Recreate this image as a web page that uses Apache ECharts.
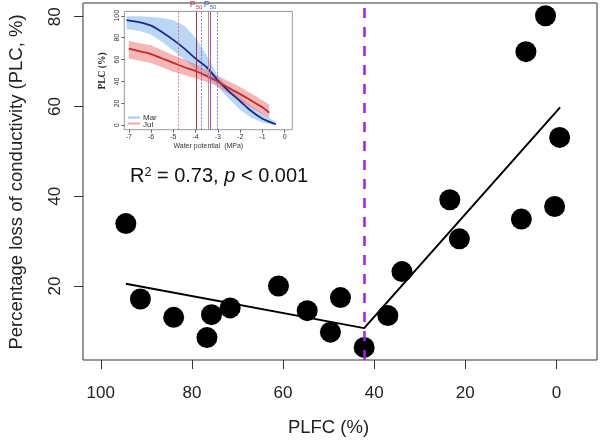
<!DOCTYPE html>
<html>
<head>
<meta charset="utf-8">
<script src="https://cdn.jsdelivr.net/npm/echarts@6/dist/echarts.min.js"></script>
<style>
  html, body { margin: 0; padding: 0; background: #fff; }
  #main { width: 606px; height: 446px; }
</style>
</head>
<body>
<div id="main"></div>
<script>
// main panel: PLFC vs PLC
var plfc = [94.5, 91.3, 84.0, 75.7, 76.7, 71.6, 61.0, 54.7, 47.4, 49.6, 42.2, 37.0, 33.9, 23.4, 21.3, 7.7, 0.4, -0.7, 6.7, 2.4];
var plc  = [33.9, 17.1, 13.0, 13.6, 8.5, 15.1, 20.0, 14.5, 17.4, 9.7, 6.3, 13.4, 23.2, 39.2, 30.5, 34.9, 37.7, 53.1, 72.2, 80.2];
// piecewise fit, break point
var fitX = [94.5, 42.2, -0.8];
var fitY = [20.5, 10.6, 59.8];
var breakX = 42.2;
var xTicks = [100, 80, 60, 40, 20, 0];
var yTicks = [20, 40, 60, 80];

// inset: vulnerability curves
var marX  = [-7.1, -6.5, -6, -5.5, -5, -4.5, -4, -3.5, -3, -2.5, -2, -1.5, -1, -0.4];
var marY  = [96, 94, 91, 85, 78, 70, 61, 53, 41, 31, 22, 13, 6, 1];
var marHi = [99.5, 99.5, 99, 98, 96, 91, 80, 64, 45, 34, 26, 18, 11, 3];
var marLo = [88, 86, 83, 76, 68, 60, 51, 44, 35, 24, 14, 7, 2.5, 0];
var julX  = [-7, -6.5, -6, -5.5, -5, -4.5, -4, -3.5, -3, -2.5, -2, -1.5, -1, -0.7];
var julY  = [70, 67.5, 65, 61, 57, 53, 49.6, 45, 40, 34, 28.5, 22.5, 16.5, 11.5];
var julHi = [77, 75, 73, 68.5, 64, 60, 56, 50.5, 45, 40, 35, 29, 23, 19];
var julLo = [61, 59, 57, 53, 49, 46, 43, 39.5, 35.5, 28.5, 22, 16, 10, 7];
var marP50 = -3.35, marCI = [-3.76, -3.03];
var julP50 = -3.98, julCI = [-4.78, -3.43];
var inXTicks = [-7, -6, -5, -4, -3, -2, -1, 0];
var inYTicks = [0, 20, 40, 60, 80, 100];

var FONT = 'Liberation Sans, Arial, sans-serif';

var myChart = echarts.init(document.getElementById('main'));

function pairs(xs, ys) {
  return xs.map(function (x, i) { return [x, ys[i]]; });
}

// band polygon drawn once, through the inset axes
function band(xs, lo, hi, fill) {
  return function (params, api) {
    if (params.dataIndex !== 0) return null;
    var pts = [];
    for (var i = 0; i < xs.length; i++) pts.push(api.coord([xs[i], hi[i]]));
    for (var j = xs.length - 1; j >= 0; j--) pts.push(api.coord([xs[j], lo[j]]));
    return { type: 'polygon', shape: { points: pts }, style: { fill: fill } };
  };
}

function p50Label(color) {
  return {
    show: true, position: 'end', distance: 1,
    formatter: '{p|P}{s|50}',
    rich: {
      p: { fontSize: 9, color: color, fontFamily: FONT },
      s: { fontSize: 6, color: color, fontFamily: FONT, padding: [5, 0, 0, 0] }
    }
  };
}

var option = {
  animation: false,
  grid: [
    { left: 83, top: 3, width: 514, height: 357, show: true, borderColor: '#333', borderWidth: 1 },
    { left: 124.3, top: 11.4, width: 168, height: 118.3, show: true, borderColor: '#999', borderWidth: 1 }
  ],
  xAxis: [
    {
      gridIndex: 0, type: 'value', inverse: true, min: -8.9, max: 103.9,
      splitLine: { show: false }, axisLine: { show: false, onZero: false },
      axisTick: { show: true, customValues: xTicks, length: 9, lineStyle: { color: '#333' } },
      axisLabel: { customValues: xTicks, fontSize: 17, color: '#222', margin: 25, fontFamily: FONT }
    },
    {
      gridIndex: 1, type: 'value', min: -7.2, max: 0.34,
      splitLine: { show: false }, axisLine: { show: false, onZero: false },
      axisTick: { show: true, customValues: inXTicks, length: 3, lineStyle: { color: '#666' } },
      axisLabel: { customValues: inXTicks, fontSize: 7, color: '#333', margin: 4, fontFamily: FONT },
      name: 'Water potential  (MPa)', nameLocation: 'middle', nameGap: 13,
      nameTextStyle: { fontSize: 7, color: '#333', fontFamily: FONT }
    }
  ],
  yAxis: [
    {
      gridIndex: 0, type: 'value', min: 3.5, max: 83.05,
      splitLine: { show: false }, axisLine: { show: false, onZero: false },
      axisTick: { show: true, customValues: yTicks, length: 9, lineStyle: { color: '#333' } },
      axisLabel: { customValues: yTicks, rotate: 90, fontSize: 17, color: '#222', margin: 19, fontFamily: FONT }
    },
    {
      gridIndex: 1, type: 'value', min: -4, max: 104,
      splitLine: { show: false }, axisLine: { show: false, onZero: false },
      axisTick: { show: true, customValues: inYTicks, length: 3, lineStyle: { color: '#666' } },
      axisLabel: { customValues: inYTicks, rotate: 90, fontSize: 7, color: '#333', margin: 4, fontFamily: FONT }
    }
  ],
  series: [
    {
      name: 'PLC', type: 'scatter', xAxisIndex: 0, yAxisIndex: 0, z: 3,
      data: pairs(plfc, plc), symbolSize: 21,
      itemStyle: { color: '#000', opacity: 1 }
    },
    {
      name: 'fit', type: 'line', xAxisIndex: 0, yAxisIndex: 0, z: 4,
      data: pairs(fitX, fitY), symbol: 'none',
      lineStyle: { color: '#000', width: 2 },
      markLine: {
        silent: true, symbol: 'none', label: { show: false },
        lineStyle: { color: '#A020F0', type: [10, 9], width: 2.5 },
        data: [{ xAxis: breakX }]
      }
    },
    {
      name: 'Mar band', type: 'custom', xAxisIndex: 1, yAxisIndex: 1, z: 2,
      data: pairs(marX, marY), renderItem: band(marX, marLo, marHi, 'rgba(140,190,240,0.6)')
    },
    {
      name: 'Jul band', type: 'custom', xAxisIndex: 1, yAxisIndex: 1, z: 2,
      data: pairs(julX, julY), renderItem: band(julX, julLo, julHi, 'rgba(240,110,110,0.5)')
    },
    {
      name: 'Mar', type: 'line', xAxisIndex: 1, yAxisIndex: 1, z: 4,
      data: pairs(marX, marY), symbol: 'none', smooth: 0.3,
      lineStyle: { color: '#1A2A8C', width: 1.8 },
      markLine: {
        silent: true, symbol: 'none',
        lineStyle: { color: '#4A5AE0', width: 0.8, type: [2, 1.5] },
        label: { show: false },
        data: [
          { xAxis: marCI[0] }, { xAxis: marCI[1] },
          { xAxis: marP50, lineStyle: { type: 'solid', color: '#8060C0', width: 1 }, label: p50Label('#4A5AE0') }
        ]
      }
    },
    {
      name: 'Jul', type: 'line', xAxisIndex: 1, yAxisIndex: 1, z: 4,
      data: pairs(julX, julY), symbol: 'none', smooth: 0.3,
      lineStyle: { color: '#C42A2A', width: 1.8 },
      markLine: {
        silent: true, symbol: 'none',
        lineStyle: { color: '#E06060', width: 0.8, type: [2, 1.5] },
        label: { show: false },
        data: [
          { xAxis: julCI[0] }, { xAxis: julCI[1], lineStyle: { type: 'solid', color: '#D08090', width: 1 } },
          { xAxis: julP50, lineStyle: { type: 'solid', color: '#B03030', width: 1 }, label: p50Label('#C04050') }
        ]
      }
    }
  ],
  graphic: [
    {
      type: 'text', x: 17, y: 182, rotation: Math.PI / 2,
      style: { text: 'Percentage loss of conductivity (PLC, %)', align: 'center', verticalAlign: 'middle',
               fontSize: 18.5, fill: '#222', fontFamily: FONT }
    },
    {
      type: 'text', x: 328.5, y: 428,
      style: { text: 'PLFC (%)', align: 'center', verticalAlign: 'middle', fontSize: 18.5, fill: '#222', fontFamily: FONT }
    },
    {
      type: 'text', x: 130, y: 176,
      style: {
        text: '{n|R}{s|2}{n| = 0.73, }{i|p}{n| < 0.001}', align: 'left', verticalAlign: 'middle',
        rich: {
          n: { fontSize: 20, fill: '#111', fontFamily: FONT },
          s: { fontSize: 12.5, fill: '#111', fontFamily: FONT, verticalAlign: 'top' },
          i: { fontSize: 20, fill: '#111', fontFamily: FONT, fontStyle: 'italic' }
        }
      }
    },
    {
      type: 'text', x: 103, y: 71, rotation: Math.PI / 2,
      style: { text: 'PLC (%)', align: 'center', verticalAlign: 'middle', fontSize: 9.5, fontWeight: 'bold',
               fill: '#222', fontFamily: 'Liberation Serif, serif' }
    },
    { type: 'line', shape: { x1: 128, y1: 117.5, x2: 140, y2: 117.5 }, style: { stroke: '#A8C8F0', lineWidth: 2 } },
    { type: 'line', shape: { x1: 128, y1: 123.5, x2: 140, y2: 123.5 }, style: { stroke: '#F0A8A8', lineWidth: 2 } },
    { type: 'text', x: 143, y: 118, style: { text: 'Mar', verticalAlign: 'middle', fontSize: 8, fill: '#333', fontFamily: FONT } },
    { type: 'text', x: 143, y: 124.5, style: { text: 'Jul', verticalAlign: 'middle', fontSize: 8, fill: '#333', fontFamily: FONT } }
  ]
};

myChart.setOption(option);
</script>
</body>
</html>
